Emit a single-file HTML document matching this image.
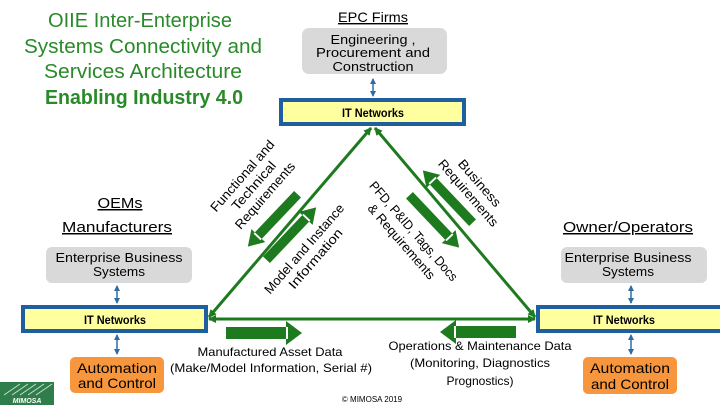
<!DOCTYPE html>
<html><head><meta charset="utf-8"><style>
html,body{margin:0;padding:0;background:#fff;}
svg{display:block;font-family:"Liberation Sans",sans-serif;}
</style></head><body>
<svg width="720" height="405" viewBox="0 0 720 405" xmlns="http://www.w3.org/2000/svg">
<defs>
<marker id="ga" markerWidth="8" markerHeight="8" refX="7" refY="4" orient="auto-start-reverse" markerUnits="userSpaceOnUse"><path d="M0,0 L8,4 L0,8 z" fill="#1e7a1e"/></marker>
<marker id="ba" markerWidth="6" markerHeight="6" refX="5" refY="3" orient="auto-start-reverse" markerUnits="userSpaceOnUse"><path d="M0,0 L6,3 L0,6 z" fill="#2e6da4"/></marker>
<path id="blk" d="M0,-5 L-62,-5 L-62,5 L0,5 Z M-2,-10 L14,0 L-2,10 Z" fill="#1e7a1e"/>
</defs>
<g fill="#2a8a2a" font-size="20" text-anchor="middle" lengthAdjust="spacingAndGlyphs">
<text x="140" y="27" textLength="184" lengthAdjust="spacingAndGlyphs">OIIE Inter-Enterprise</text>
<text x="143" y="53" textLength="238" lengthAdjust="spacingAndGlyphs">Systems Connectivity and</text>
<text x="143" y="78" textLength="198" lengthAdjust="spacingAndGlyphs">Services Architecture</text>
<text x="144" y="104" font-weight="bold" textLength="198" lengthAdjust="spacingAndGlyphs">Enabling Industry 4.0</text>
</g>
<text x="373" y="22" font-size="14" text-anchor="middle" text-decoration="underline" textLength="70" lengthAdjust="spacingAndGlyphs">EPC Firms</text>
<rect x="302" y="28" width="145" height="46" rx="7" fill="#d9d9d9"/>
<g font-size="13" text-anchor="middle">
<text x="373" y="44" textLength="85" lengthAdjust="spacingAndGlyphs">Engineering ,</text>
<text x="373" y="57" textLength="114" lengthAdjust="spacingAndGlyphs">Procurement and</text>
<text x="373" y="71" textLength="81" lengthAdjust="spacingAndGlyphs">Construction</text></g>
<line x1="373" y1="79" x2="373" y2="96" stroke="#2e6da4" stroke-width="1.5" marker-start="url(#ba)" marker-end="url(#ba)"/>
<rect x="281" y="100" width="183" height="24" fill="#ffff9f" stroke="#1f5fa0" stroke-width="4"/>
<text x="373" y="117" font-size="12" font-weight="bold" text-anchor="middle" textLength="62" lengthAdjust="spacingAndGlyphs">IT Networks</text>
<rect x="23" y="307" width="183" height="24" fill="#ffff9f" stroke="#1f5fa0" stroke-width="4"/>
<text x="115" y="324" font-size="12" font-weight="bold" text-anchor="middle" textLength="62" lengthAdjust="spacingAndGlyphs">IT Networks</text>
<rect x="538" y="307" width="190" height="24" fill="#ffff9f" stroke="#1f5fa0" stroke-width="4"/>
<text x="624" y="324" font-size="12" font-weight="bold" text-anchor="middle" textLength="62" lengthAdjust="spacingAndGlyphs">IT Networks</text>
<g stroke="#1e7a1e" stroke-width="3">
<line x1="209" y1="317" x2="371" y2="128" marker-start="url(#ga)" marker-end="url(#ga)"/>
<line x1="535" y1="317" x2="375" y2="128" marker-start="url(#ga)" marker-end="url(#ga)"/>
<line x1="209" y1="319" x2="535" y2="319" marker-start="url(#ga)" marker-end="url(#ga)"/>
</g>
<use href="#blk" transform="translate(257,237) rotate(133.5) scale(0.95)"/>
<use href="#blk" transform="translate(307,217) rotate(-46.5) scale(0.95)"/>
<use href="#blk" transform="translate(450,238) rotate(46.5) scale(0.95)"/>
<use href="#blk" transform="translate(432,180) rotate(-133.5) scale(0.95)"/>
<use href="#blk" transform="translate(288,333) scale(1,1.2)"/>
<use href="#blk" transform="translate(454,332) rotate(180) scale(1,1.2)"/>
<g font-size="13" text-anchor="middle">
<g transform="translate(254,186) rotate(-49)"><text y="-11" textLength="90" lengthAdjust="spacingAndGlyphs">Functional and</text><text y="4" textLength="60" lengthAdjust="spacingAndGlyphs">Technical</text><text y="19" textLength="84" lengthAdjust="spacingAndGlyphs">Requirements</text></g>
<g transform="translate(309,253) rotate(-49)"><text y="-2" textLength="114" lengthAdjust="spacingAndGlyphs">Model and Instance</text><text y="13" textLength="75" lengthAdjust="spacingAndGlyphs">Information</text></g>
<g transform="translate(474,188) rotate(49)"><text y="-3" textLength="58" lengthAdjust="spacingAndGlyphs">Business</text><text y="12" textLength="84" lengthAdjust="spacingAndGlyphs">Requirements</text></g>
<g transform="translate(408,236) rotate(49)"><text y="-3" textLength="127" lengthAdjust="spacingAndGlyphs">PFD, P&amp;ID, Tags, Docs</text><text y="13" textLength="95" lengthAdjust="spacingAndGlyphs">&amp; Requirements</text></g>
</g>
<g font-size="15" text-anchor="middle" text-decoration="underline">
<text x="120" y="208" textLength="45" lengthAdjust="spacingAndGlyphs">OEMs</text>
<text x="117" y="232" textLength="110" lengthAdjust="spacingAndGlyphs">Manufacturers</text>
<text x="628" y="232" textLength="130" lengthAdjust="spacingAndGlyphs">Owner/Operators</text>
</g>
<rect x="46" y="247" width="146" height="36" rx="6" fill="#d9d9d9"/>
<g font-size="13" text-anchor="middle"><text x="119" y="262" textLength="127" lengthAdjust="spacingAndGlyphs">Enterprise Business</text><text x="119" y="276" textLength="52" lengthAdjust="spacingAndGlyphs">Systems</text></g>
<rect x="561" y="247" width="146" height="36" rx="6" fill="#d9d9d9"/>
<g font-size="13" text-anchor="middle"><text x="628" y="262" textLength="127" lengthAdjust="spacingAndGlyphs">Enterprise Business</text><text x="628" y="276" textLength="52" lengthAdjust="spacingAndGlyphs">Systems</text></g>
<g stroke="#2e6da4" stroke-width="1.5">
<line x1="117" y1="286" x2="117" y2="303" marker-start="url(#ba)" marker-end="url(#ba)"/>
<line x1="117" y1="335" x2="117" y2="354" marker-start="url(#ba)" marker-end="url(#ba)"/>
<line x1="631" y1="286" x2="631" y2="303" marker-start="url(#ba)" marker-end="url(#ba)"/>
<line x1="631" y1="335" x2="631" y2="354" marker-start="url(#ba)" marker-end="url(#ba)"/>
</g>
<rect x="70" y="357" width="94" height="36" rx="5" fill="#f7963c"/>
<g font-size="14" text-anchor="middle"><text x="117" y="373" textLength="80" lengthAdjust="spacingAndGlyphs">Automation</text><text x="117" y="388" textLength="78" lengthAdjust="spacingAndGlyphs">and Control</text></g>
<rect x="583" y="357" width="94" height="37" rx="5" fill="#f7963c"/>
<g font-size="14" text-anchor="middle"><text x="630" y="373" textLength="80" lengthAdjust="spacingAndGlyphs">Automation</text><text x="630" y="389" textLength="78" lengthAdjust="spacingAndGlyphs">and Control</text></g>
<g font-size="12" text-anchor="middle">
<text x="270" y="356" textLength="145" lengthAdjust="spacingAndGlyphs">Manufactured Asset Data</text>
<text x="271" y="372" textLength="202" lengthAdjust="spacingAndGlyphs">(Make/Model Information, Serial #)</text>
<text x="480" y="350" textLength="183" lengthAdjust="spacingAndGlyphs">Operations &amp; Maintenance Data</text>
<text x="480" y="367" textLength="140" lengthAdjust="spacingAndGlyphs">(Monitoring, Diagnostics</text>
<text x="480" y="385" textLength="67" lengthAdjust="spacingAndGlyphs">Prognostics)</text>
</g>
<text x="372" y="402" font-size="8" text-anchor="middle">© MIMOSA 2019</text>
<rect x="0" y="382" width="54" height="23" fill="#2f7d4a"/>
<g stroke="#cfe7d6" stroke-width="0.8"><line x1="4" y1="395" x2="20" y2="384"/><line x1="12" y1="395" x2="28" y2="384"/><line x1="20" y1="395" x2="36" y2="384"/><line x1="28" y1="395" x2="44" y2="384"/><line x1="36" y1="395" x2="52" y2="384"/></g>
<text x="27" y="403" font-size="7" font-weight="bold" font-style="italic" fill="#fff" text-anchor="middle">MIMOSA</text>
</svg>
</body></html>
